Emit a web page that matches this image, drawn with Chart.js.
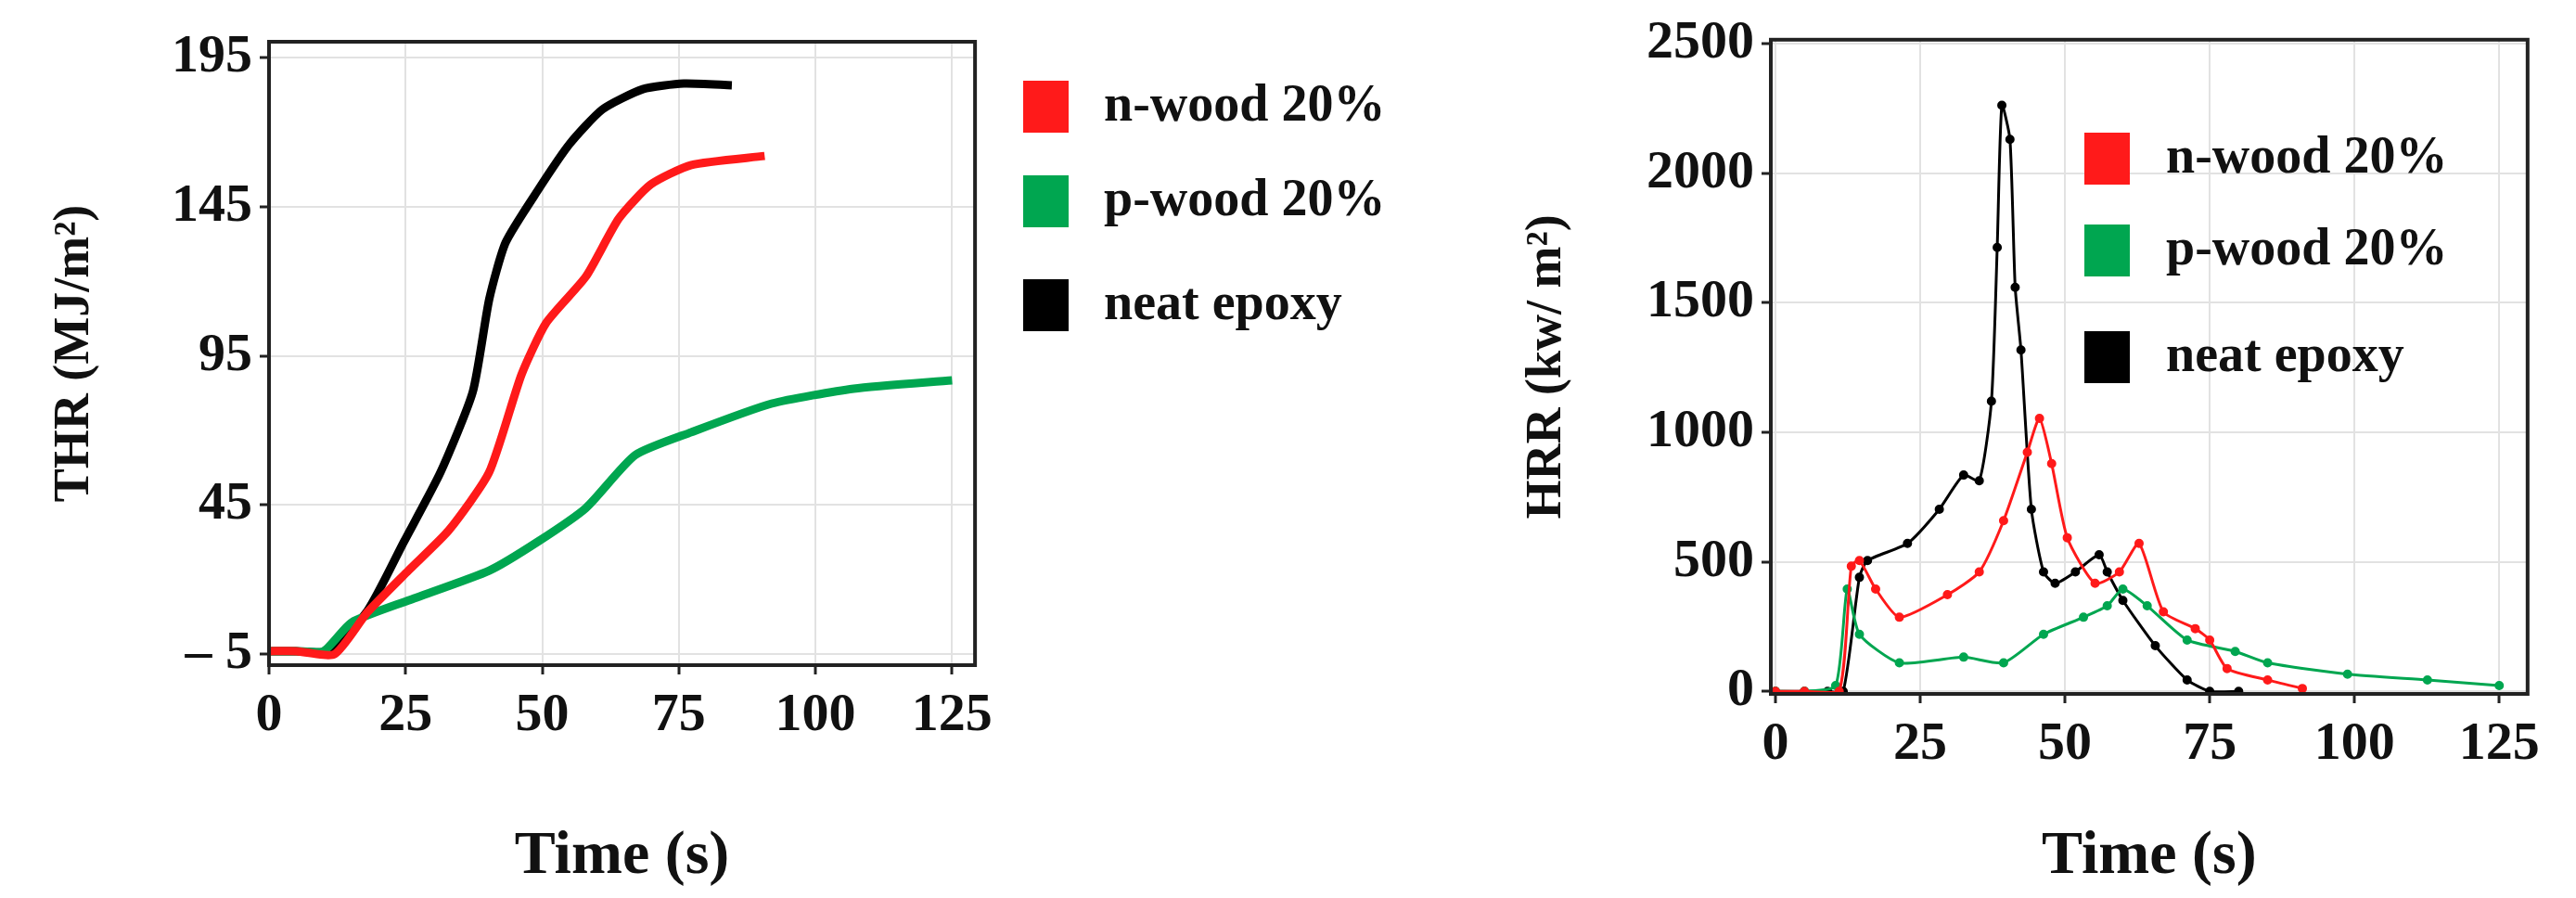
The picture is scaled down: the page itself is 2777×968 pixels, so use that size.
<!DOCTYPE html>
<html><head><meta charset="utf-8">
<script src="https://cdn.jsdelivr.net/npm/chart.js@4.4.1/dist/chart.umd.min.js"></script>
<style>
body{margin:0;background:#fff;width:2777px;height:968px;overflow:hidden;position:relative;font-family:"Liberation Serif",serif}
.box{position:absolute;top:0}
.leg{position:absolute;font-weight:bold;font-size:56px;line-height:56px;color:#111;white-space:nowrap}
.sq{position:absolute;width:49px;height:56px}
</style></head><body>
<div class="box" style="left:0;width:1080px;height:968px"><canvas id="thr"></canvas></div>
<div class="box" style="left:1400px;width:1348px;height:968px"><canvas id="hrr"></canvas></div>
<div id="legends"></div>
<script>
// ── THR data ──
const thrBlackX=[0,5,10.7,18,24.7,31.4,37.3,40.3,43.3,49.2,55,61,68.4,75.9,84.7];
const thrBlackY=[-4,-4,-4,9.5,32.7,56,83,114,133,150.5,166,177.6,184.4,186.3,185.7];
const thrRedX=[0,5,12,18,25.5,32.9,40.3,46.2,50.7,58,64,69.9,77.3,90.7];
const thrRedY=[-4,-4,-5,9,23,36.5,56,88.7,106,121.6,141,152.5,159,162];
const thrGreenX=[0,5,10,15.1,25.5,40.3,49.2,58,67,77.3,92,107,125];
const thrGreenY=[-4,-4,-4,5.6,13,23,32.7,44,61.7,69.4,79,84,86.8];
const thrTicks=[-5,45,95,145,195];
// ── HRR data ──
const hrrBlackX=[0,5,9,11.7,14.5,15.9,22.8,28.3,32.5,35.2,37.3,38.3,39.1,40.5,41.4,42.4,44.2,46.3,48.3,51.8,55.9,57.3,60,65.6,71.1,75,80];
const hrrBlackY=[0,0,0,0,440,505,571,703,835,813,1120,1714,2263,2131,1560,1318,703,461,417,461,527,461,351,176,44,0,0];
const hrrRedX=[0,5,11,13.1,14.5,17.3,21.4,29.7,35.2,39.4,43.5,45.6,47.7,50.4,55.2,59.4,62.8,67,72.5,75,78,85,91];
const hrrRedY=[0,0,0,483,505,395,286,373,461,659,923,1054,879,593,417,461,571,307,242,198,88,44,11];
const hrrGreenX=[0,5,10.4,12.4,14.5,21.4,32.5,39.4,46.3,53.2,57.3,60,64.2,71.1,79.4,85,98.8,112.6,125];
const hrrGreenY=[0,0,22,395,220,110,132,110,220,286,330,395,330,198,154,110,66,44,22];
const hrrTicks=[0,500,1000,1500,2000,2500];
const xTicks=[0,25,50,75,100,125];
const legendLabels=['n-wood 20%','p-wood 20%','neat epoxy'];
const colors=['#ff1a1a','#00a650','#000000'];

const pts=(xs,ys)=>xs.map((x,i)=>({x,y:ys[i]}));
const frame={id:'frame',afterDraw(c){const a=c.chartArea,g=c.ctx;g.save();g.strokeStyle='#222';g.lineWidth=4;g.strokeRect(a.left,a.top,a.right-a.left,a.bottom-a.top);g.restore()}};
const font={family:'"Liberation Serif", serif',weight:'bold'};

function makeChart(id,sets,yr,yt,yTitle,geo,thick){
  new Chart(document.getElementById(id),{
    type:'scatter',
    data:{datasets:sets.map((s,i)=>({data:s,showLine:true,borderColor:colors[i],backgroundColor:colors[i],
      borderWidth:thick?9:3,pointRadius:thick?0:3.5,tension:0.2}))},
    options:{responsive:true,maintainAspectRatio:false,animation:false,
      layout:{padding:{top:geo.top,right:4,left:geo.pad}},
      plugins:{legend:{display:false},tooltip:{enabled:false}},
      scales:{
        x:{type:'linear',min:geo.xmin,max:geo.xmax,afterBuildTicks:s=>{s.ticks=xTicks.map(v=>({value:v}))},
          afterFit:s=>{s.height=968-geo.bottom},
          grid:{color:'#e2e2e2',lineWidth:2,tickColor:'#222',tickLength:10,tickWidth:3},border:{display:false},
          ticks:{color:'#111',font:{...font,size:58},padding:10,maxRotation:0},
          title:{display:true,text:'Time (s)',color:'#111',font:{...font,size:66},padding:{top:14}}},
        y:{type:'linear',min:yr[0],max:yr[1],afterBuildTicks:s=>{s.ticks=yt.map(v=>({value:v}))},
          afterFit:s=>{s.width=geo.left-geo.pad},
          grid:{color:'#e2e2e2',lineWidth:2,tickColor:'#222',tickLength:10,tickWidth:3},border:{display:false},
          ticks:{color:'#111',font:{...font,size:58},padding:8,callback:v=>v<0?'– '+Math.abs(v):v},
          title:{display:true,text:yTitle,color:'#111',font:{...font,size:54},padding:{bottom:20}}}
      }},
    plugins:[frame]
  });
}
makeChart('thr',[pts(thrRedX,thrRedY),pts(thrGreenX,thrGreenY),pts(thrBlackX,thrBlackY)],[-8.7,200.3],thrTicks,'THR (MJ/m²)',
  {left:290,pad:45,top:45,bottom:717,xmin:0,xmax:129.2},true);
makeChart('hrr',[pts(hrrRedX,hrrRedY),pts(hrrGreenX,hrrGreenY),pts(hrrBlackX,hrrBlackY)],[-10,2516],hrrTicks,'HRR (kw/ m²)',
  {left:509,pad:232,top:34,bottom:748,xmin:-0.8,xmax:129.9},false);

// legends
const L=document.getElementById('legends');
function legend(sqX,txtX,tops){
  tops.forEach((t,i)=>{
    L.insertAdjacentHTML('beforeend',`<div class="sq" style="left:${sqX}px;top:${t}px;background:${colors[i]}"></div><div class="leg" style="left:${txtX}px;top:${t-4}px">${legendLabels[i]}</div>`);
  });
}
legend(1103,1190,[87,189,301]);
legend(2247,2335,[143,242,357]);
</script></body></html>
